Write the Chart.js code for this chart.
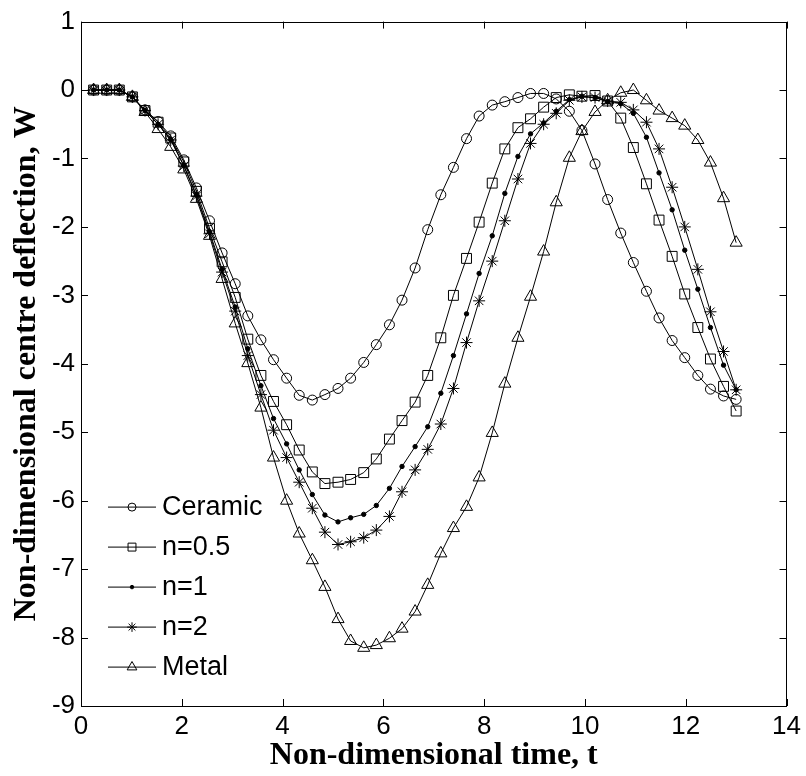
<!DOCTYPE html>
<html>
<head>
<meta charset="utf-8">
<script src="https://cdn.jsdelivr.net/npm/chart.js@4.4.1/dist/chart.umd.min.js"></script>
<style>
  body { margin: 0; background: #fff; }
  canvas { display: block; }
</style>
</head>
<body>
<canvas id="grafico" width="806" height="776"></canvas>
<script>
// valores
const tempo = [0.25, 0.51, 0.76, 1.02, 1.27, 1.53, 1.78, 2.04, 2.29, 2.55, 2.80, 3.06, 3.31, 3.57, 3.82, 4.08, 4.33,
  4.59, 4.84, 5.10, 5.35, 5.61, 5.86, 6.12, 6.37, 6.63, 6.88, 7.14, 7.39, 7.65, 7.90, 8.16, 8.41, 8.67, 8.92,
  9.18, 9.43, 9.69, 9.94, 10.20, 10.45, 10.71, 10.96, 11.22, 11.47, 11.73, 11.98, 12.24, 12.49, 12.75, 13.00];

const ceramic = [0, 0, 0, -0.10, -0.29, -0.46, -0.67, -1.02, -1.43, -1.91, -2.38, -2.83, -3.30, -3.65, -3.94,
  -4.21, -4.46, -4.53, -4.45, -4.36, -4.21, -3.98, -3.72, -3.43, -3.07, -2.60, -2.04, -1.53, -1.13, -0.71, -0.38,
  -0.22, -0.17, -0.11, -0.05, -0.05, -0.13, -0.31, -0.59, -1.08, -1.60, -2.09, -2.52, -2.94, -3.33, -3.66, -3.91,
  -4.17, -4.37, -4.47, -4.52];

const n05 = [0, 0, 0, -0.10, -0.30, -0.47, -0.70, -1.05, -1.48, -2.02, -2.51, -3.03, -3.64, -4.17, -4.55,
  -4.89, -5.26, -5.58, -5.75, -5.73, -5.69, -5.59, -5.39, -5.10, -4.83, -4.56, -4.17, -3.62, -3.00, -2.46, -1.93,
  -1.36, -0.86, -0.55, -0.42, -0.25, -0.11, -0.07, -0.09, -0.08, -0.16, -0.41, -0.84, -1.37, -1.90, -2.43, -2.98,
  -3.47, -3.93, -4.33, -4.69];

const n1 = [0, 0, 0, -0.10, -0.30, -0.50, -0.72, -1.10, -1.53, -2.07, -2.62, -3.17, -3.78, -4.32, -4.80,
  -5.17, -5.55, -5.91, -6.21, -6.31, -6.25, -6.20, -6.07, -5.82, -5.50, -5.21, -4.92, -4.43, -3.88, -3.27, -2.68,
  -2.13, -1.51, -0.97, -0.64, -0.48, -0.31, -0.14, -0.09, -0.11, -0.17, -0.20, -0.34, -0.69, -1.21, -1.75, -2.34,
  -2.91, -3.47, -4.02, -4.38];

const n2 = [0, 0, 0, -0.10, -0.30, -0.50, -0.73, -1.11, -1.55, -2.10, -2.66, -3.23, -3.88, -4.45, -4.97,
  -5.37, -5.73, -6.11, -6.46, -6.64, -6.60, -6.54, -6.43, -6.23, -5.87, -5.55, -5.25, -4.88, -4.36, -3.69, -3.08,
  -2.50, -1.91, -1.30, -0.78, -0.50, -0.34, -0.15, -0.10, -0.11, -0.16, -0.18, -0.29, -0.47, -0.86, -1.42, -2.00,
  -2.62, -3.24, -3.82, -4.38];

const metal = [0, 0, 0, -0.10, -0.32, -0.57, -0.83, -1.16, -1.59, -2.13, -2.76, -3.41, -3.99, -4.64, -5.37,
  -6.00, -6.48, -6.87, -7.26, -7.73, -8.05, -8.15, -8.11, -8.01, -7.87, -7.62, -7.23, -6.77, -6.40, -6.09, -5.66,
  -5.01, -4.29, -3.62, -3.02, -2.36, -1.64, -0.99, -0.60, -0.32, -0.15, -0.04, 0.00, -0.15, -0.30, -0.41, -0.52,
  -0.73, -1.06, -1.58, -2.23];

const nomes = ['Ceramic', 'n=0.5', 'n=1', 'n=2', 'Metal'];
const ticksX = [0, 2, 4, 6, 8, 10, 12, 14];
const ticksY = [1, 0, -1, -2, -3, -4, -5, -6, -7, -8, -9];

function pontos(valores) {
  return tempo.map((t, i) => ({ x: t, y: valores[i] }));
}

function serie(nome, valores, estilo, raio, preenchido) {
  return {
    label: nome,
    data: pontos(valores),
    borderColor: '#000',
    borderWidth: 1,
    backgroundColor: preenchido ? '#000' : 'rgba(0,0,0,0)',
    pointStyle: estilo,
    pointRadius: raio,
    pointBorderWidth: 1,
    pointBorderColor: '#000',
    pointBackgroundColor: preenchido ? '#000' : 'rgba(0,0,0,0)',
    tension: 0,
    fill: false
  };
}

// moldura e marcas para dentro, como no Matlab
const moldura = {
  id: 'moldura',
  afterDraw(chart) {
    const { ctx, chartArea: a, scales } = chart;
    ctx.save();
    ctx.strokeStyle = '#000';
    ctx.lineWidth = 1;
    ctx.strokeRect(Math.round(a.left) + 0.5, Math.round(a.top) + 0.5,
      Math.round(a.right - a.left) - 1, Math.round(a.bottom - a.top));
    ctx.beginPath();
    ticksX.forEach(v => {
      const px = Math.round(scales.x.getPixelForValue(v)) + 0.5;
      ctx.moveTo(px, a.bottom); ctx.lineTo(px, a.bottom - 7);
      ctx.moveTo(px, a.top); ctx.lineTo(px, a.top + 7);
    });
    ticksY.forEach(v => {
      const py = Math.round(scales.y.getPixelForValue(v)) + 0.5;
      ctx.moveTo(a.left, py); ctx.lineTo(a.left + 7, py);
      ctx.moveTo(a.right, py); ctx.lineTo(a.right - 7, py);
    });
    ctx.stroke();

    // legenda sem caixa
    ctx.font = '27px Arial, "Liberation Sans", sans-serif';
    ctx.textBaseline = 'middle';
    ctx.fillStyle = '#000';
    chart.data.datasets.forEach((ds, i) => {
      const y = a.top + 485 + 40 * i;
      const x0 = a.left + 27;
      ctx.beginPath();
      ctx.moveTo(x0, y + 0.5); ctx.lineTo(x0 + 48, y + 0.5);
      ctx.stroke();
      ctx.save();
      ctx.fillStyle = ds.pointBackgroundColor;
      ctx.strokeStyle = '#000';
      ctx.lineWidth = 1;
      Chart.helpers.drawPoint(ctx, {
        pointStyle: ds.pointStyle,
        radius: ds.pointStyle === 'circle' && i === 0 ? 4 : ds.pointRadius * 0.8,
        borderWidth: 1,
        rotation: 0
      }, x0 + 24, y + 0.5);
      ctx.restore();
      ctx.fillText(ds.label, x0 + 54, y + 1);
    });
    ctx.restore();
  }
};

const ctxGrafico = document.getElementById('grafico').getContext('2d');
const grafico = new Chart(ctxGrafico, {
  type: 'line',
  data: {
    datasets: [
      serie(nomes[0], ceramic, 'circle', 5, false),
      serie(nomes[1], n05, 'rect', 7, false),
      serie(nomes[2], n1, 'circle', 2.2, true),
      serie(nomes[3], n2, 'star', 6, false),
      serie(nomes[4], metal, 'triangle', 7, false)
    ]
  },
  options: {
    responsive: false,
    animation: false,
    events: [],
    layout: { padding: { top: 18, right: 16, left: 0, bottom: 0 } },
    plugins: {
      legend: { display: false },
      tooltip: { enabled: false }
    },
    scales: {
      x: {
        type: 'linear',
        min: 0,
        max: 14,
        afterFit(scale) { scale.height = 70; },
        afterBuildTicks(scale) { scale.ticks = ticksX.map(v => ({ value: v })); },
        grid: { display: false, drawTicks: false },
        border: { display: false },
        ticks: {
          color: '#000',
          padding: 5,
          maxRotation: 0,
          font: { family: 'Arial, "Liberation Sans", sans-serif', size: 26 }
        },
        title: {
          display: true,
          text: 'Non-dimensional time, t',
          color: '#000',
          padding: { bottom: 1 },
          font: { family: '"Times New Roman", "Liberation Serif", serif', size: 32, weight: 'bold' }
        }
      },
      y: {
        type: 'linear',
        min: -9,
        max: 1,
        afterFit(scale) { scale.width = 81; },
        afterBuildTicks(scale) { scale.ticks = ticksY.map(v => ({ value: v })); },
        grid: { display: false, drawTicks: false },
        border: { display: false },
        ticks: {
          color: '#000',
          padding: 6,
          font: { family: 'Arial, "Liberation Sans", sans-serif', size: 26 }
        },
        title: {
          display: true,
          text: 'Non-dimensional centre deflection, W',
          color: '#000',
          padding: { top: 8 },
          font: { family: '"Times New Roman", "Liberation Serif", serif', size: 32, weight: 'bold' }
        }
      }
    }
  },
  plugins: [moldura]
});
</script>
</body>
</html>
